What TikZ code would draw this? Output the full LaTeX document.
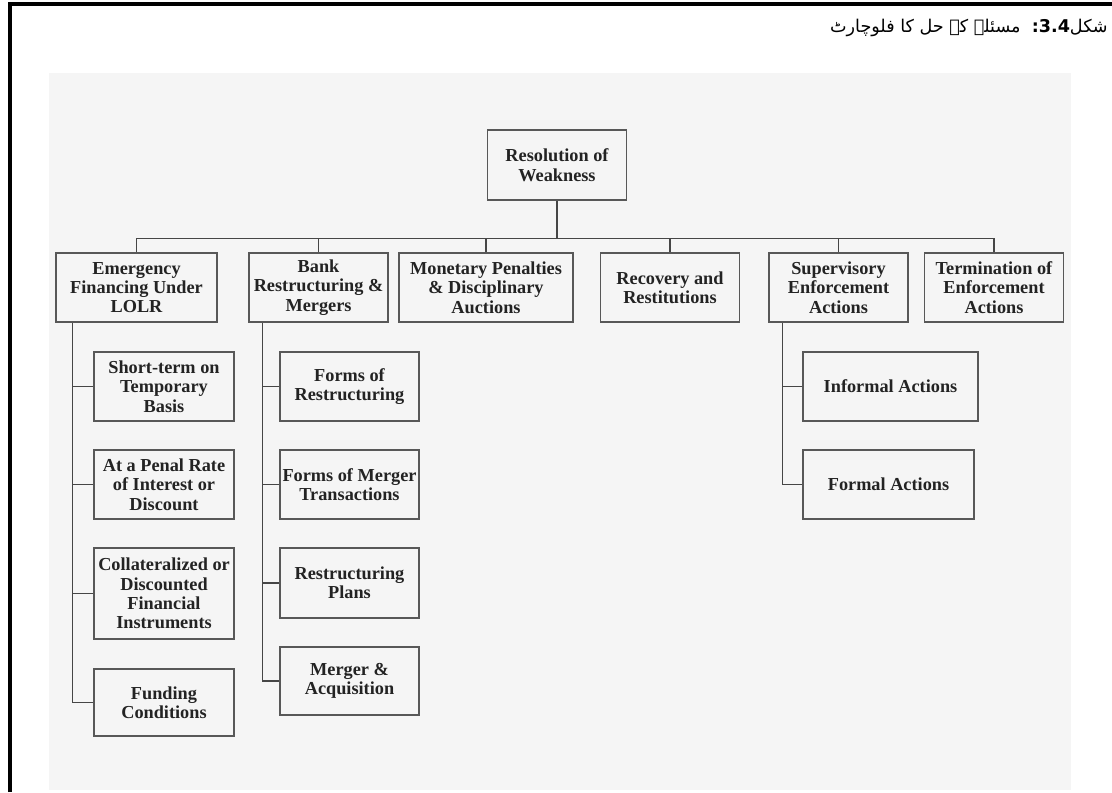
\documentclass[tikz,border=0pt]{standalone}
\usepackage{fontspec}
\setmainfont{Liberation Serif}
\newfontfamily\urdufont[Script=Arabic]{DejaVu Sans}
\TeXXeTstate=1
\usepackage{tikz}
\usetikzlibrary{calc,positioning}
\usepackage{xcolor}
\definecolor{panelgray}{RGB}{245,245,245}
\definecolor{boxgray}{RGB}{88,88,88}
\definecolor{linegray}{RGB}{70,70,70}
\definecolor{textgray}{RGB}{35,35,35}

\begin{document}
\begin{tikzpicture}[x=0.025cm,y=-0.025cm,
  box/.style={draw=boxgray,fill=panelgray,line width=1pt,align=center,inner sep=1pt,
              minimum width=3.475cm,minimum height=1.725cm,text=textgray,
              font=\fontsize{13}{13.8}\selectfont\bfseries},
  link/.style={draw=linegray,line width=1.1pt}]
  \useasboundingbox (0,0) rectangle (1112,792);
  \fill[panelgray] (49,73) rectangle (1071,790);
  \draw[line width=2.2pt] (10,792) -- (10,4) -- (1112,4);
  \node[anchor=east,inner sep=0pt,font=\urdufont\fontsize{12.5}{15}\selectfont](title) at (1108,28)
    {\beginR شکل\beginL{\bfseries 3.4}\endL{\bfseries :}\ \ مسئلے کے حل کا فلوچارٹ\endR};
  \node[box,minimum height=1.75cm](root) at (557,165) {Resolution of\\Weakness};
  \node[box,minimum width=4.025cm](emerg) at (136.5,287.5) {Emergency\\Financing Under\\LOLR};
  \node[box](bank) at (318.5,287.5) {Bank\\Restructuring \&\\Mergers};
  \node[box,minimum width=4.35cm](monet) at (486,287.5) {Monetary Penalties\\\& Disciplinary\\Auctions};
  \node[box](recov) at (670,287.5) {Recovery and\\Restitutions};
  \node[box](superv) at (838.5,287.5) {Supervisory\\Enforcement\\Actions};
  \node[box](termin) at (994,287.5) {Termination of\\Enforcement\\Actions};
  \node[box,minimum width=3.5cm](shortt) at (164,386.5) {Short-term on\\Temporary\\Basis};
  \node[box,minimum width=3.5cm](penal) at (164,484.5) {At a Penal Rate\\of Interest or\\Discount};
  \node[box,minimum width=3.5cm,minimum height=2.275cm](collat) at (164,593.5) {Collateralized or\\Discounted\\Financial\\Instruments};
  \node[box,minimum width=3.5cm,minimum height=1.675cm](fundc) at (164,702.5) {Funding\\Conditions};
  \node[box](formr) at (349.5,386.5) {Forms of\\Restructuring};
  \node[box](formm) at (349.5,484.5) {Forms of Merger\\Transactions};
  \node[box,minimum height=1.75cm](rplans) at (349.5,583) {Restructuring\\Plans};
  \node[box,minimum height=1.7cm](merger) at (349.5,681) {Merger \&\\Acquisition};
  \node[box,minimum width=4.375cm](inform) at (890.5,386.5) {Informal Actions};
  \node[box,minimum width=4.275cm](formal) at (888.5,484.5) {Formal Actions};
  \coordinate (bus) at ($(root.south)+(0,38)$);
  \coordinate (etrunk) at ($(emerg.south west)+(17,0)$);
  \coordinate (btrunk) at ($(bank.south west)+(14,0)$);
  \coordinate (strunk) at ($(superv.south west)+(14,0)$);
  \draw[link](root.south)--(bus);
  \foreach \n in {emerg,bank,monet,recov,superv,termin}
    \draw[link](\n.north)|-(bus);
  \draw[link](etrunk)|-(fundc.west);
  \foreach \n in {shortt,penal,collat}
    \draw[link](\n.west)--(\n.west-|etrunk);
  \draw[link](btrunk)|-(merger.west);
  \foreach \n in {formr,formm,rplans}
    \draw[link](\n.west)--(\n.west-|btrunk);
  \draw[link](strunk)|-(formal.west);
  \draw[link](inform.west)--(inform.west-|strunk);
\end{tikzpicture}
\end{document}
